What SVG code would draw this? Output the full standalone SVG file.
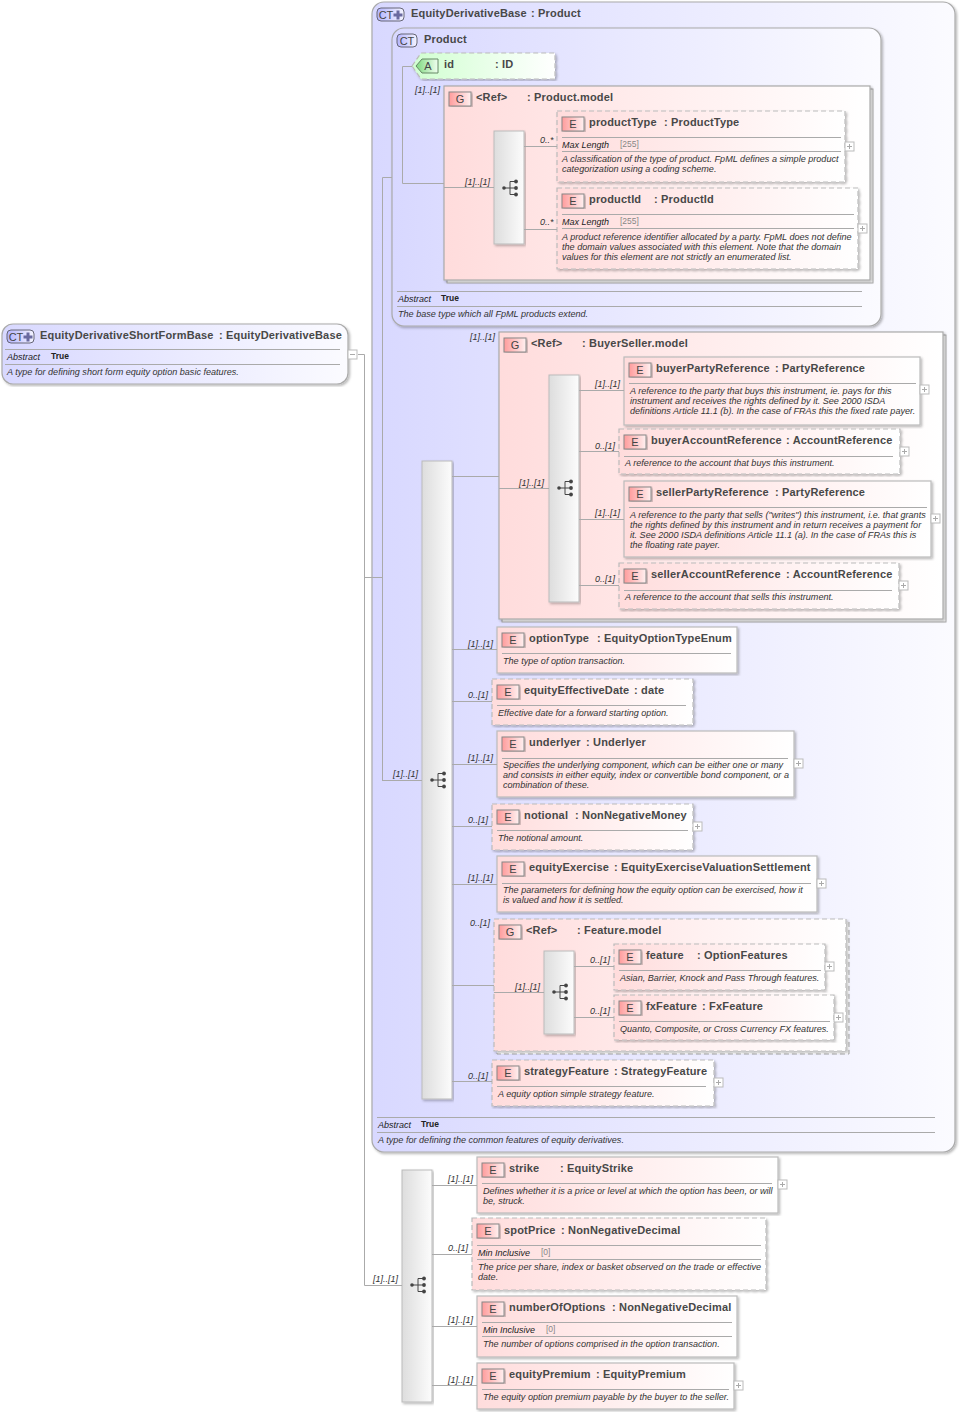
<svg xmlns="http://www.w3.org/2000/svg" width="959" height="1415" viewBox="0 0 959 1415">
<style>
text{font-family:"Liberation Sans",Arial,sans-serif}
.t{font-size:11px;font-weight:bold;fill:#484848;letter-spacing:.17px}
.d{font-size:9.08px;font-style:italic;fill:#333}
.k{font-size:9px;font-style:italic;fill:#222}
.v{font-size:8.5px;font-weight:bold;fill:#222}
.r{font-size:8.5px;fill:#888}
.m{font-size:9px;font-style:italic;fill:#333}
.i{font-size:11px;fill:#444;text-anchor:middle}
.ct{fill:url(#gct);stroke:#aaa;stroke-width:1.2;filter:url(#sh)}
.e{fill:url(#ge);stroke:#bbb;stroke-width:1.2;filter:url(#sh)}
.o{stroke-dasharray:5 3}
.sep{stroke:#aaa;stroke-width:1;fill:none}
.c{stroke:#aaa;stroke-width:1;fill:none}
.ie{fill:url(#gie);stroke:#888;stroke-width:1;filter:url(#sh)}
.ic{fill:url(#gic);stroke:#667;stroke-width:1}
.ia{fill:url(#gia);stroke:#686;stroke-width:1}
.s{fill:url(#gs);stroke:#bbb;stroke-width:1;filter:url(#sh)}
.p{fill:#fff;stroke:#bbb;stroke-width:1}
.pl{stroke:#aaa;stroke-width:1;fill:none}
</style>
<defs>
<linearGradient id="gct"><stop offset="0" stop-color="#d8d8ff"/><stop offset="1" stop-color="#fbfbff"/></linearGradient>
<linearGradient id="ge"><stop offset="0" stop-color="#ffdcdc"/><stop offset="1" stop-color="#fff"/></linearGradient>
<linearGradient id="ga"><stop offset="0" stop-color="#d0ffd0"/><stop offset="1" stop-color="#fff"/></linearGradient>
<linearGradient id="gs"><stop offset="0" stop-color="#ddd"/><stop offset="1" stop-color="#fcfcfc"/></linearGradient>
<linearGradient id="gie"><stop offset="0" stop-color="#ff9c9c"/><stop offset="1" stop-color="#fff0f0"/></linearGradient>
<linearGradient id="gic"><stop offset="0" stop-color="#b4b4ff"/><stop offset="1" stop-color="#f4f4ff"/></linearGradient>
<linearGradient id="gia"><stop offset="0" stop-color="#7ed87e"/><stop offset="1" stop-color="#f0fff0"/></linearGradient>
<filter id="sh" x="-5%" y="-5%" width="110%" height="110%"><feDropShadow dx="1.5" dy="1.5" stdDeviation="1" flood-color="#000" flood-opacity=".28"/></filter>
<g id="seq" fill="#444" stroke="#444"><path d="M-6 0H6M0-6.500V6.500M0-6.500H6M0 6.500H6" fill="none" stroke-width="1"/><circle cx="-6" r="1.8" stroke="none"/><circle cx="6" cy="-6.500" r="1.9" stroke="none"/><circle cx="6" r="1.9" stroke="none"/><circle cx="6" cy="6.500" r="1.9" stroke="none"/></g>
<g id="plus"><rect class="p" width="9" height="9"/><path class="pl" d="M2 4.500H7M4.500 2V7"/></g>
<path id="ctplus" fill="#6a6aa0" d="M-1.500-4.500h3v3h3v3h-3v3h-3v-3h-3v-3h3z"/>
</defs>
<rect width="959" height="1415" fill="#fff"/>

<g id="root">
<rect class="ct" x="2" y="324" width="346" height="60" rx="11"/>
<rect class="ic" x="7" y="330" width="27" height="13" rx="4"/><text class="i" x="16" y="341">CT</text><use href="#ctplus" x="28" y="337"/>
<text class="t" x="40" y="339">EquityDerivativeShortFormBase<tspan x="219">: EquityDerivativeBase</tspan></text>
<path class="sep" d="M5 349.500H340M5 364.500H340"/>
<text class="k" x="7" y="360">Abstract</text><text class="v" x="51" y="359">True</text>
<text class="d" x="7" y="375">A type for defining short form equity option basic features.</text>
<rect class="p" x="348" y="350" width="9" height="9"/><path class="pl" d="M350 354.500H355"/>
</g>

<g id="EquityDerivativeBase">
<rect class="ct" x="372" y="2" width="583" height="1150" rx="12"/>
<rect class="ic" x="377" y="8" width="27" height="13" rx="4"/><text class="i" x="386" y="19">CT</text><use href="#ctplus" x="398" y="15"/>
<text class="t" x="411" y="17">EquityDerivativeBase<tspan x="531">: Product</tspan></text>
<path class="sep" d="M377 1117.500H935M377 1132.500H935"/>
<text class="k" x="378" y="1128">Abstract</text><text class="v" x="421" y="1127">True</text>
<text class="d" x="378" y="1143">A type for defining the common features of equity derivatives.</text>
</g>

<g id="Product">
<rect class="ct" x="392" y="28" width="489" height="298" rx="12"/>
<rect class="ic" x="397" y="34" width="20" height="13" rx="4"/><text class="i" x="407" y="45">CT</text>
<text class="t" x="424" y="43">Product</text>
<path class="sep" d="M397 291.500H862M397 306.500H862"/>
<text class="k" x="398" y="302">Abstract</text><text class="v" x="441" y="301">True</text>
<text class="d" x="398" y="317">The base type which all FpML products extend.</text>
</g>

<g id="id">
<path class="o" d="M412 66L421 53H555V79H421Z" fill="url(#ga)" stroke="#bbb" stroke-width="1.2" filter="url(#sh)"/>
<path class="ia" d="M416 66L422 59H438V73H422Z"/><text class="i" x="428" y="70">A</text>
<text class="t" x="444" y="68">id<tspan x="495">: ID</tspan></text>
</g>
<text class="m" x="415" y="93">[1]..[1]</text>

<g id="ProductModel">
<rect x="447" y="89" width="426" height="194" fill="#fff" stroke="#aaa"/>
<rect class="e" x="444" y="86" width="426" height="194" style="stroke:#aaa"/>
<rect class="ie" x="449" y="92" width="22" height="14"/><text class="i" x="460" y="103">G</text>
<text class="t" x="476" y="101">&lt;Ref&gt;<tspan x="527">: Product.model</tspan></text>
<rect class="s" x="494" y="131" width="30" height="113"/><use href="#seq" x="510" y="188"/>
</g>
<text class="m" x="465" y="185">[1]..[1]</text>
<text class="m" x="540" y="143">0..*</text>
<text class="m" x="540" y="225">0..*</text>
<g id="productType">
<rect class="e o" x="557" y="111" width="288" height="71"/>
<rect class="ie" x="562" y="117" width="22" height="14"/><text class="i" x="573" y="128">E</text>
<text class="t" x="589" y="126">productType<tspan x="664">: ProductType</tspan></text>
<path class="sep" d="M562 137.500H841M562 151.500H841"/>
<text class="k" x="562" y="148">Max Length</text><text class="r" x="620" y="147">[255]</text>
<text class="d" x="562" y="162">A classification of the type of product. FpML defines a simple product</text>
<text class="d" x="562" y="172">categorization using a coding scheme.</text>
<use href="#plus" x="845" y="142"/>
</g>
<g id="productId">
<rect class="e o" x="557" y="188" width="301" height="81"/>
<rect class="ie" x="562" y="194" width="22" height="14"/><text class="i" x="573" y="205">E</text>
<text class="t" x="589" y="203">productId<tspan x="654">: ProductId</tspan></text>
<path class="sep" d="M562 214.500H854M562 228.500H854"/>
<text class="k" x="562" y="225">Max Length</text><text class="r" x="620" y="224">[255]</text>
<text class="d" x="562" y="240">A product reference identifier allocated by a party. FpML does not define</text>
<text class="d" x="562" y="250">the domain values associated with this element. Note that the domain</text>
<text class="d" x="562" y="260">values for this element are not strictly an enumerated list.</text>
<use href="#plus" x="858" y="224"/>
</g>

<g id="seqMain">
<rect class="s" x="422" y="461" width="30" height="638"/><use href="#seq" x="438" y="780"/>
</g>
<text class="m" x="393" y="777">[1]..[1]</text>
<text class="m" x="470" y="340">[1]..[1]</text>

<g id="BuyerSellerModel">
<rect x="502" y="335" width="444" height="287" fill="#fff" stroke="#aaa"/>
<rect class="e" x="499" y="332" width="444" height="287" style="stroke:#aaa"/>
<rect class="ie" x="504" y="338" width="22" height="14"/><text class="i" x="515" y="349">G</text>
<text class="t" x="531" y="347">&lt;Ref&gt;<tspan x="582">: BuyerSeller.model</tspan></text>
<rect class="s" x="549" y="375" width="30" height="227"/><use href="#seq" x="565" y="488"/>
</g>
<text class="m" x="519" y="486">[1]..[1]</text>
<text class="m" x="595" y="387">[1]..[1]</text>
<text class="m" x="595" y="449">0..[1]</text>
<text class="m" x="595" y="516">[1]..[1]</text>
<text class="m" x="595" y="582">0..[1]</text>

<g id="buyerPartyReference">
<rect class="e" x="624" y="357" width="296" height="68"/>
<rect class="ie" x="629" y="363" width="22" height="14"/><text class="i" x="640" y="374">E</text>
<text class="t" x="656" y="372">buyerPartyReference<tspan x="775">: PartyReference</tspan></text>
<path class="sep" d="M629 383.500H916"/>
<text class="d" x="630" y="394">A reference to the party that buys this instrument, ie. pays for this</text>
<text class="d" x="630" y="404">instrument and receives the rights defined by it. See 2000 ISDA</text>
<text class="d" x="630" y="414">definitions Article 11.1 (b). In the case of FRAs this the fixed rate payer.</text>
<use href="#plus" x="920" y="385"/>
</g>
<g id="buyerAccountReference">
<rect class="e o" x="619" y="429" width="281" height="45"/>
<rect class="ie" x="624" y="435" width="22" height="14"/><text class="i" x="635" y="446">E</text>
<text class="t" x="651" y="444">buyerAccountReference<tspan x="786">: AccountReference</tspan></text>
<path class="sep" d="M624 456.500H893"/>
<text class="d" x="625" y="466">A reference to the account that buys this instrument.</text>
<use href="#plus" x="900" y="447"/>
</g>
<g id="sellerPartyReference">
<rect class="e" x="624" y="481" width="307" height="76"/>
<rect class="ie" x="629" y="487" width="22" height="14"/><text class="i" x="640" y="498">E</text>
<text class="t" x="656" y="496">sellerPartyReference<tspan x="775">: PartyReference</tspan></text>
<path class="sep" d="M629 507.500H927"/>
<text class="d" x="630" y="518">A reference to the party that sells ("writes") this instrument, i.e. that grants</text>
<text class="d" x="630" y="528">the rights defined by this instrument and in return receives a payment for</text>
<text class="d" x="630" y="538">it. See 2000 ISDA definitions Article 11.1 (a). In the case of FRAs this is</text>
<text class="d" x="630" y="548">the floating rate payer.</text>
<use href="#plus" x="931" y="514"/>
</g>
<g id="sellerAccountReference">
<rect class="e o" x="619" y="563" width="280" height="46"/>
<rect class="ie" x="624" y="569" width="22" height="14"/><text class="i" x="635" y="580">E</text>
<text class="t" x="651" y="578">sellerAccountReference<tspan x="786">: AccountReference</tspan></text>
<path class="sep" d="M624 590.500H892"/>
<text class="d" x="625" y="600">A reference to the account that sells this instrument.</text>
<use href="#plus" x="899" y="581"/>
</g>

<text class="m" x="468" y="647">[1]..[1]</text>
<g id="optionType">
<rect class="e" x="497" y="627" width="240" height="46"/>
<rect class="ie" x="502" y="633" width="22" height="14"/><text class="i" x="513" y="644">E</text>
<text class="t" x="529" y="642">optionType<tspan x="597">: EquityOptionTypeEnum</tspan></text>
<path class="sep" d="M502 653.500H731"/>
<text class="d" x="503" y="664">The type of option transaction.</text>
</g>
<text class="m" x="468" y="698">0..[1]</text>
<g id="equityEffectiveDate">
<rect class="e o" x="492" y="679" width="201" height="46"/>
<rect class="ie" x="497" y="685" width="22" height="14"/><text class="i" x="508" y="696">E</text>
<text class="t" x="524" y="694">equityEffectiveDate<tspan x="634">: date</tspan></text>
<path class="sep" d="M497 705.500H686"/>
<text class="d" x="498" y="716">Effective date for a forward starting option.</text>
</g>
<text class="m" x="468" y="761">[1]..[1]</text>
<g id="underlyer">
<rect class="e" x="497" y="731" width="297" height="66"/>
<rect class="ie" x="502" y="737" width="22" height="14"/><text class="i" x="513" y="748">E</text>
<text class="t" x="529" y="746">underlyer<tspan x="586">: Underlyer</tspan></text>
<path class="sep" d="M502 758.500H788"/>
<text class="d" x="503" y="768">Specifies the underlying component, which can be either one or many</text>
<text class="d" x="503" y="778">and consists in either equity, index or convertible bond component, or a</text>
<text class="d" x="503" y="788">combination of these.</text>
<use href="#plus" x="794" y="759"/>
</g>
<text class="m" x="468" y="823">0..[1]</text>
<g id="notional">
<rect class="e o" x="492" y="804" width="201" height="46"/>
<rect class="ie" x="497" y="810" width="22" height="14"/><text class="i" x="508" y="821">E</text>
<text class="t" x="524" y="819">notional<tspan x="575">: NonNegativeMoney</tspan></text>
<path class="sep" d="M497 830.500H688"/>
<text class="d" x="498" y="841">The notional amount.</text>
<use href="#plus" x="693" y="822"/>
</g>
<text class="m" x="468" y="881">[1]..[1]</text>
<g id="equityExercise">
<rect class="e" x="497" y="856" width="320" height="56"/>
<rect class="ie" x="502" y="862" width="22" height="14"/><text class="i" x="513" y="873">E</text>
<text class="t" x="529" y="871">equityExercise<tspan x="614">: EquityExerciseValuationSettlement</tspan></text>
<path class="sep" d="M502 883.500H811"/>
<text class="d" x="503" y="893">The parameters for defining how the equity option can be exercised, how it</text>
<text class="d" x="503" y="903">is valued and how it is settled.</text>
<use href="#plus" x="817" y="879"/>
</g>
<text class="m" x="470" y="926">0..[1]</text>
<g id="FeatureModel">
<rect class="o" x="497" y="922" width="352" height="132" fill="#fff" stroke="#aaa"/>
<rect class="e o" x="494" y="919" width="352" height="132"/>
<rect class="ie" x="499" y="925" width="22" height="14"/><text class="i" x="510" y="936">G</text>
<text class="t" x="526" y="934">&lt;Ref&gt;<tspan x="577">: Feature.model</tspan></text>
<rect class="s" x="544" y="951" width="30" height="83"/><use href="#seq" x="560" y="992"/>
</g>
<text class="m" x="515" y="990">[1]..[1]</text>
<text class="m" x="590" y="963">0..[1]</text>
<text class="m" x="590" y="1014">0..[1]</text>
<g id="feature">
<rect class="e o" x="614" y="944" width="211" height="46"/>
<rect class="ie" x="619" y="950" width="22" height="14"/><text class="i" x="630" y="961">E</text>
<text class="t" x="646" y="959">feature<tspan x="697">: OptionFeatures</tspan></text>
<path class="sep" d="M619 970.500H821"/>
<text class="d" x="620" y="981">Asian, Barrier, Knock and Pass Through features.</text>
<use href="#plus" x="825" y="962"/>
</g>
<g id="fxFeature">
<rect class="e o" x="614" y="995" width="220" height="45"/>
<rect class="ie" x="619" y="1001" width="22" height="14"/><text class="i" x="630" y="1012">E</text>
<text class="t" x="646" y="1010">fxFeature<tspan x="702">: FxFeature</tspan></text>
<path class="sep" d="M619 1021.500H830"/>
<text class="d" x="620" y="1032">Quanto, Composite, or Cross Currency FX features.</text>
<use href="#plus" x="834" y="1013"/>
</g>
<text class="m" x="468" y="1079">0..[1]</text>
<g id="strategyFeature">
<rect class="e o" x="492" y="1060" width="222" height="46"/>
<rect class="ie" x="497" y="1066" width="22" height="14"/><text class="i" x="508" y="1077">E</text>
<text class="t" x="524" y="1075">strategyFeature<tspan x="614">: StrategyFeature</tspan></text>
<path class="sep" d="M497 1086.500H706"/>
<text class="d" x="498" y="1097">A equity option simple strategy feature.</text>
<use href="#plus" x="714" y="1078"/>
</g>

<g id="seqBottom">
<rect class="s" x="402" y="1170" width="30" height="232"/><use href="#seq" x="418" y="1285"/>
</g>
<text class="m" x="373" y="1282">[1]..[1]</text>
<text class="m" x="448" y="1182">[1]..[1]</text>
<text class="m" x="448" y="1251">0..[1]</text>
<text class="m" x="448" y="1323">[1]..[1]</text>
<text class="m" x="448" y="1383">[1]..[1]</text>
<g id="strike">
<rect class="e" x="477" y="1157" width="301" height="56"/>
<rect class="ie" x="482" y="1163" width="22" height="14"/><text class="i" x="493" y="1174">E</text>
<text class="t" x="509" y="1172">strike<tspan x="560">: EquityStrike</tspan></text>
<path class="sep" d="M482 1183.500H772"/>
<text class="d" x="483" y="1194">Defines whether it is a price or level at which the option has been, or will</text>
<text class="d" x="483" y="1204">be, struck.</text>
<use href="#plus" x="778" y="1180"/>
</g>
<g id="spotPrice">
<rect class="e o" x="472" y="1218" width="294" height="72"/>
<rect class="ie" x="477" y="1224" width="22" height="14"/><text class="i" x="488" y="1235">E</text>
<text class="t" x="504" y="1234">spotPrice<tspan x="561">: NonNegativeDecimal</tspan></text>
<path class="sep" d="M477 1245.500H761M477 1259.500H761"/>
<text class="k" x="478" y="1256">Min Inclusive</text><text class="r" x="541" y="1255">[0]</text>
<text class="d" x="478" y="1270">The price per share, index or basket observed on the trade or effective</text>
<text class="d" x="478" y="1280">date.</text>
</g>
<g id="numberOfOptions">
<rect class="e" x="477" y="1296" width="260" height="61"/>
<rect class="ie" x="482" y="1302" width="22" height="14"/><text class="i" x="493" y="1313">E</text>
<text class="t" x="509" y="1311">numberOfOptions<tspan x="612">: NonNegativeDecimal</tspan></text>
<path class="sep" d="M482 1322.500H732M482 1336.500H732"/>
<text class="k" x="483" y="1333">Min Inclusive</text><text class="r" x="546" y="1332">[0]</text>
<text class="d" x="483" y="1347">The number of options comprised in the option transaction.</text>
</g>
<g id="equityPremium">
<rect class="e" x="477" y="1363" width="257" height="46"/>
<rect class="ie" x="482" y="1369" width="22" height="14"/><text class="i" x="493" y="1380">E</text>
<text class="t" x="509" y="1378">equityPremium<tspan x="596">: EquityPremium</tspan></text>
<path class="sep" d="M482 1389.500H729"/>
<text class="d" x="483" y="1400">The equity option premium payable by the buyer to the seller.</text>
<use href="#plus" x="734" y="1381"/>
</g>

<g id="connectors">
<path class="c" d="M358 354.500H364.500V1285.500H402M364.500 577.500H382M382.500 780.500V177.500H392M382 780.500H422M402.500 66.500H412M402.500 66.500V183.500H444M444 187.500H494M524 146.500H557M524 229.500H557M452 476.500H499M499 488.500H549M579 390.500H624M579 451.500H619M579 519.500H624M579 585.500H619M452 649.500H497M452 701.500H492M452 764.500H497M452 826.500H492M452 884.500H497M452 985.500H494M494 992.500H544M574 966.500H614M574 1017.500H614M452 1081.500H492M432 1185.500H477M432 1254.500H472M432 1326.500H477M432 1385.500H477"/>
</g>
</svg>
